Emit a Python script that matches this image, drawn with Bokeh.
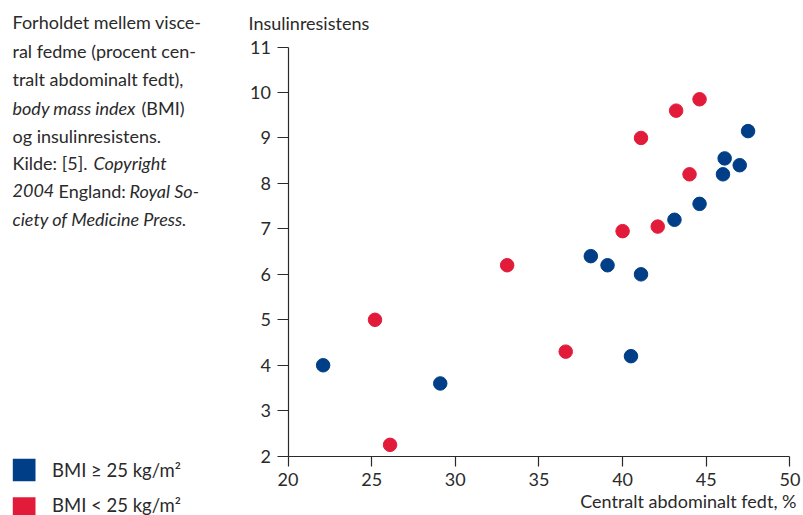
from bokeh.plotting import figure
from bokeh.models import Label, BoxAnnotation, FixedTicker, Range1d
from bokeh.embed import file_html
from bokeh.resources import INLINE

# ---- data ----
blue_x = [22.1, 29.1, 38.1, 39.1, 41.1, 40.5, 43.1, 44.6, 46.0, 46.1, 47.0, 47.5]
blue_y = [4.0, 3.6, 6.4, 6.2, 6.0, 4.2, 7.2, 7.55, 8.2, 8.55, 8.4, 9.15]
red_x = [26.1, 25.2, 33.1, 36.6, 40.0, 42.1, 41.1, 43.2, 44.6, 44.0]
red_y = [2.25, 5.0, 6.2, 4.3, 6.95, 7.05, 9.0, 9.6, 9.85, 8.2]
x_ticks = [20, 25, 30, 35, 40, 45, 50]
y_ticks = [2, 3, 4, 5, 6, 7, 8, 9, 10, 11]
legend_labels = ["BMI \u2265 25 kg/m\u00b2", "BMI < 25 kg/m\u00b2"]
y_title = "Insulinresistens"
x_title = "Centralt abdominalt fedt, %"

BLUE = "#003f87"
RED = "#e31b3b"
TXT = "#2a2a2a"
FONT = "Lato"

W, H = 803, 515
# page positions of the axis ends (px)
X0_PX, X1_PX = 287.5, 789.4   # x = 20 .. 50
Y0_PX, Y1_PX = 455.7, 46.5    # y = 2 .. 11
XMIN, XMAX = x_ticks[0], x_ticks[-1]
YMIN, YMAX = y_ticks[0], y_ticks[-1]
sx = (X1_PX - X0_PX) / (XMAX - XMIN)
sy = (Y0_PX - Y1_PX) / (YMAX - YMIN)
x_range = Range1d(XMIN - X0_PX / sx, XMAX + (W - X1_PX) / sx)
y_range = Range1d(YMIN - (H - Y0_PX) / sy, YMAX + Y1_PX / sy)

p = figure(width=W, height=H, x_range=x_range, y_range=y_range,
           output_backend="svg", toolbar_location=None, min_border=0)
p.outline_line_color = None
p.grid.visible = False
p.background_fill_color = "white"
p.border_fill_color = "white"

for ax in (p.xaxis[0], p.yaxis[0]):
    ax.axis_line_color = TXT
    ax.axis_line_width = 1.2
    ax.major_tick_line_color = TXT
    ax.major_tick_line_width = 1.2
    ax.minor_tick_line_color = None
    ax.major_tick_in = 0
    ax.major_label_text_font = FONT
    ax.major_label_text_font_size = "18px"
    ax.major_label_text_color = TXT
p.xaxis.ticker = FixedTicker(ticks=x_ticks)
p.yaxis.ticker = FixedTicker(ticks=y_ticks)
p.xaxis.bounds = (XMIN, XMAX)
p.yaxis.bounds = (YMIN, YMAX)
p.xaxis.fixed_location = YMIN
p.yaxis.fixed_location = XMIN
p.xaxis.major_tick_out = 10
p.xaxis.major_label_standoff = 7
p.yaxis.major_tick_out = 11
p.yaxis.major_label_standoff = 6

p.scatter(blue_x, blue_y, size=13.5, color=BLUE, line_color=BLUE)
p.scatter(red_x, red_y, size=13.5, color=RED, line_color=RED)


def lab(text, px, py, italic=False, size="18px", align="left"):
    p.add_layout(Label(x=px, y=H - py, x_units="screen", y_units="screen",
                       text=text, text_font=FONT, text_font_size=size,
                       text_font_style="italic" if italic else "normal",
                       text_color=TXT, text_align=align, text_baseline="middle"))


caption = [
    [("Forholdet mellem visce-", 12, False)],
    [("ral fedme (procent cen-", 12, False)],
    [("tralt abdominalt fedt),", 12, False)],
    [("body mass index", 12, True), ("(BMI)", 141, False)],
    [("og insulinresistens.", 12, False)],
    [("Kilde: [5].", 12, False), ("Copyright", 93, True)],
    [("2004", 12, True), ("England:", 58, False), ("Royal So-", 129, True)],
    [("ciety of Medicine Press.", 12, True)],
]
line_y = [21.7, 50, 78, 107, 135, 162, 190, 218]
for segs, ly in zip(caption, line_y):
    for t, lx, it in segs:
        lab(t, lx, ly, italic=it)

lab(y_title, 248, 22)
lab(x_title, 796, 500, align="right")

# legend: swatches and labels
legend_colors = [BLUE, RED]
legend_tops = [458.3, 496.7]
legend_text_y = [469.5, 504.5]
for c, top, ty, txt in zip(legend_colors, legend_tops, legend_text_y, legend_labels):
    p.add_layout(BoxAnnotation(left=12.3, right=35.0, top=H - top, bottom=H - top - 22.5,
                               left_units="screen", right_units="screen",
                               top_units="screen", bottom_units="screen",
                               fill_color=c, fill_alpha=1.0, line_color=None))
    lab(txt, 51.5, ty, size="18.5px")

open("out.html", "w").write(file_html(p, INLINE))
